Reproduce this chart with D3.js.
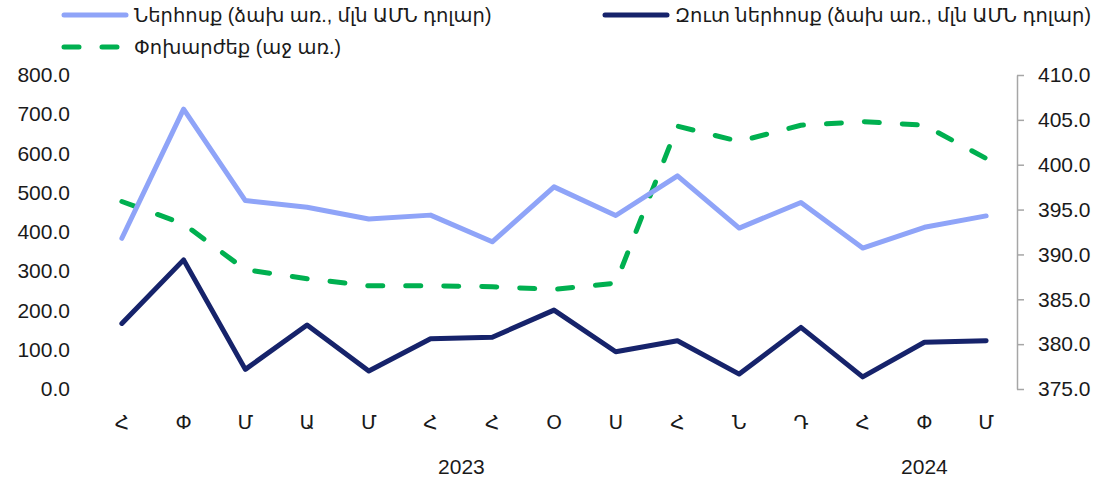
<!DOCTYPE html>
<html>
<head>
<meta charset="utf-8">
<script src="https://cdn.jsdelivr.net/npm/d3@7"></script>
<style>
  body { margin: 0; background: #fff; }
  svg text { font-family: "Liberation Sans", "DejaVu Sans", sans-serif; fill: #1a1a1a; }
</style>
</head>
<body>
<div id="chart"></div>
<script>
// ամիսներ (հունվար 2023 - մարտ 2024)
var months = ["Հ", "Փ", "Մ", "Ա", "Մ", "Հ", "Հ", "Օ", "Ս", "Հ", "Ն", "Դ", "Հ", "Փ", "Մ"];
var years = ["2023", "2024"];
var yearStart = [0, 12];
var yearEnd = [11, 14];

// մլն ԱՄՆ դոլար
var inflow = [384, 713, 480, 463, 433, 443, 375, 515, 442, 543, 410, 475, 359, 412, 441];
var netInflow = [167, 329, 50, 163, 46, 128, 132, 201, 95, 123, 38, 157, 31, 119, 123];
// փոխարժեք
var exchangeRate = [395.9, 393.4, 388.3, 387.3, 386.5, 386.5, 386.4, 386.1, 386.8, 404.3, 402.6, 404.4, 404.8, 404.4, 400.7];

var leftTicks = [0, 100, 200, 300, 400, 500, 600, 700, 800];
var rightTicks = [375, 380, 385, 390, 395, 400, 405, 410];

var legendItems = [
  { name: "Ներհոսք (ձախ առ., մլն ԱՄՆ դոլար)", color: "#8fa4f8", dash: null, x: 62, y: 15 },
  { name: "Զուտ ներհոսք (ձախ առ., մլն ԱՄՆ դոլար)", color: "#16236b", dash: null, x: 603, y: 15 },
  { name: "Փոխարժեք (աջ առ.)", color: "#00b050", dash: "15,23", x: 62, y: 47 }
];

var width = 1097, height = 481;
var plot = { left: 91, right: 1017, top: 75, bottom: 389 };

var svg = d3.select("#chart").append("svg")
  .attr("width", width)
  .attr("height", height);

var x = d3.scaleBand()
  .domain(d3.range(months.length))
  .range([plot.left, plot.right]);

var yLeft = d3.scaleLinear().domain([0, 800]).range([plot.bottom, plot.top]);
var yRight = d3.scaleLinear().domain([375, 410]).range([plot.bottom, plot.top]);

function cx(i) { return x(i) + x.bandwidth() / 2; }

// ձախ առանցք (առանց գծի)
var leftAxis = svg.append("g")
  .attr("transform", "translate(" + (plot.left - 21) + ",0)")
  .call(d3.axisLeft(yLeft).tickValues(leftTicks).tickSize(0).tickPadding(0).tickFormat(d3.format(".1f")));
leftAxis.select(".domain").remove();
leftAxis.selectAll("text").style("font-size", "21px");

// աջ առանցք
var rightAxis = svg.append("g")
  .attr("transform", "translate(" + plot.right + ",0)")
  .call(d3.axisRight(yRight).tickValues(rightTicks).tickSize(7).tickSizeOuter(0).tickPadding(14).tickFormat(d3.format(".1f")));
rightAxis.select(".domain").attr("stroke", "#a6a6a6").attr("stroke-width", 1.5);
rightAxis.selectAll(".tick line").attr("stroke", "#a6a6a6").attr("stroke-width", 1.5);
rightAxis.selectAll("text").style("font-size", "21px");

// ամիսներ
svg.append("g").selectAll("text")
  .data(months)
  .enter().append("text")
  .attr("x", function (d, i) { return cx(i); })
  .attr("y", 429)
  .attr("text-anchor", "middle")
  .style("font-size", "20px")
  .text(function (d) { return d; });

// տարիներ
svg.append("g").selectAll("text")
  .data(years)
  .enter().append("text")
  .attr("x", function (d, i) { return (cx(yearStart[i]) + cx(yearEnd[i])) / 2; })
  .attr("y", 474)
  .attr("text-anchor", "middle")
  .style("font-size", "21px")
  .text(function (d) { return d; });

var lineLeft = d3.line()
  .x(function (d, i) { return cx(i); })
  .y(function (d) { return yLeft(d); });

var lineRight = d3.line()
  .x(function (d, i) { return cx(i); })
  .y(function (d) { return yRight(d); });

svg.append("path")
  .datum(exchangeRate)
  .attr("d", lineRight)
  .attr("fill", "none")
  .attr("stroke", legendItems[2].color)
  .attr("stroke-width", 5)
  .attr("stroke-dasharray", legendItems[2].dash)
  .attr("stroke-linecap", "round")
  .attr("stroke-linejoin", "round");

svg.append("path")
  .datum(inflow)
  .attr("d", lineLeft)
  .attr("fill", "none")
  .attr("stroke", legendItems[0].color)
  .attr("stroke-width", 5)
  .attr("stroke-linecap", "round")
  .attr("stroke-linejoin", "round");

svg.append("path")
  .datum(netInflow)
  .attr("d", lineLeft)
  .attr("fill", "none")
  .attr("stroke", legendItems[1].color)
  .attr("stroke-width", 5)
  .attr("stroke-linecap", "round")
  .attr("stroke-linejoin", "round");

// լեգենդ
var legend = svg.append("g").selectAll("g")
  .data(legendItems)
  .enter().append("g")
  .attr("transform", function (d) { return "translate(" + d.x + "," + d.y + ")"; });

legend.append("line")
  .attr("x1", 2).attr("x2", 64)
  .attr("stroke", function (d) { return d.color; })
  .attr("stroke-width", 5)
  .attr("stroke-linecap", "round")
  .attr("stroke-dasharray", function (d) { return d.dash; });

legend.append("text")
  .attr("x", 72)
  .attr("dy", "0.35em")
  .style("font-size", "19.5px")
  .text(function (d) { return d.name; });
</script>
</body>
</html>
